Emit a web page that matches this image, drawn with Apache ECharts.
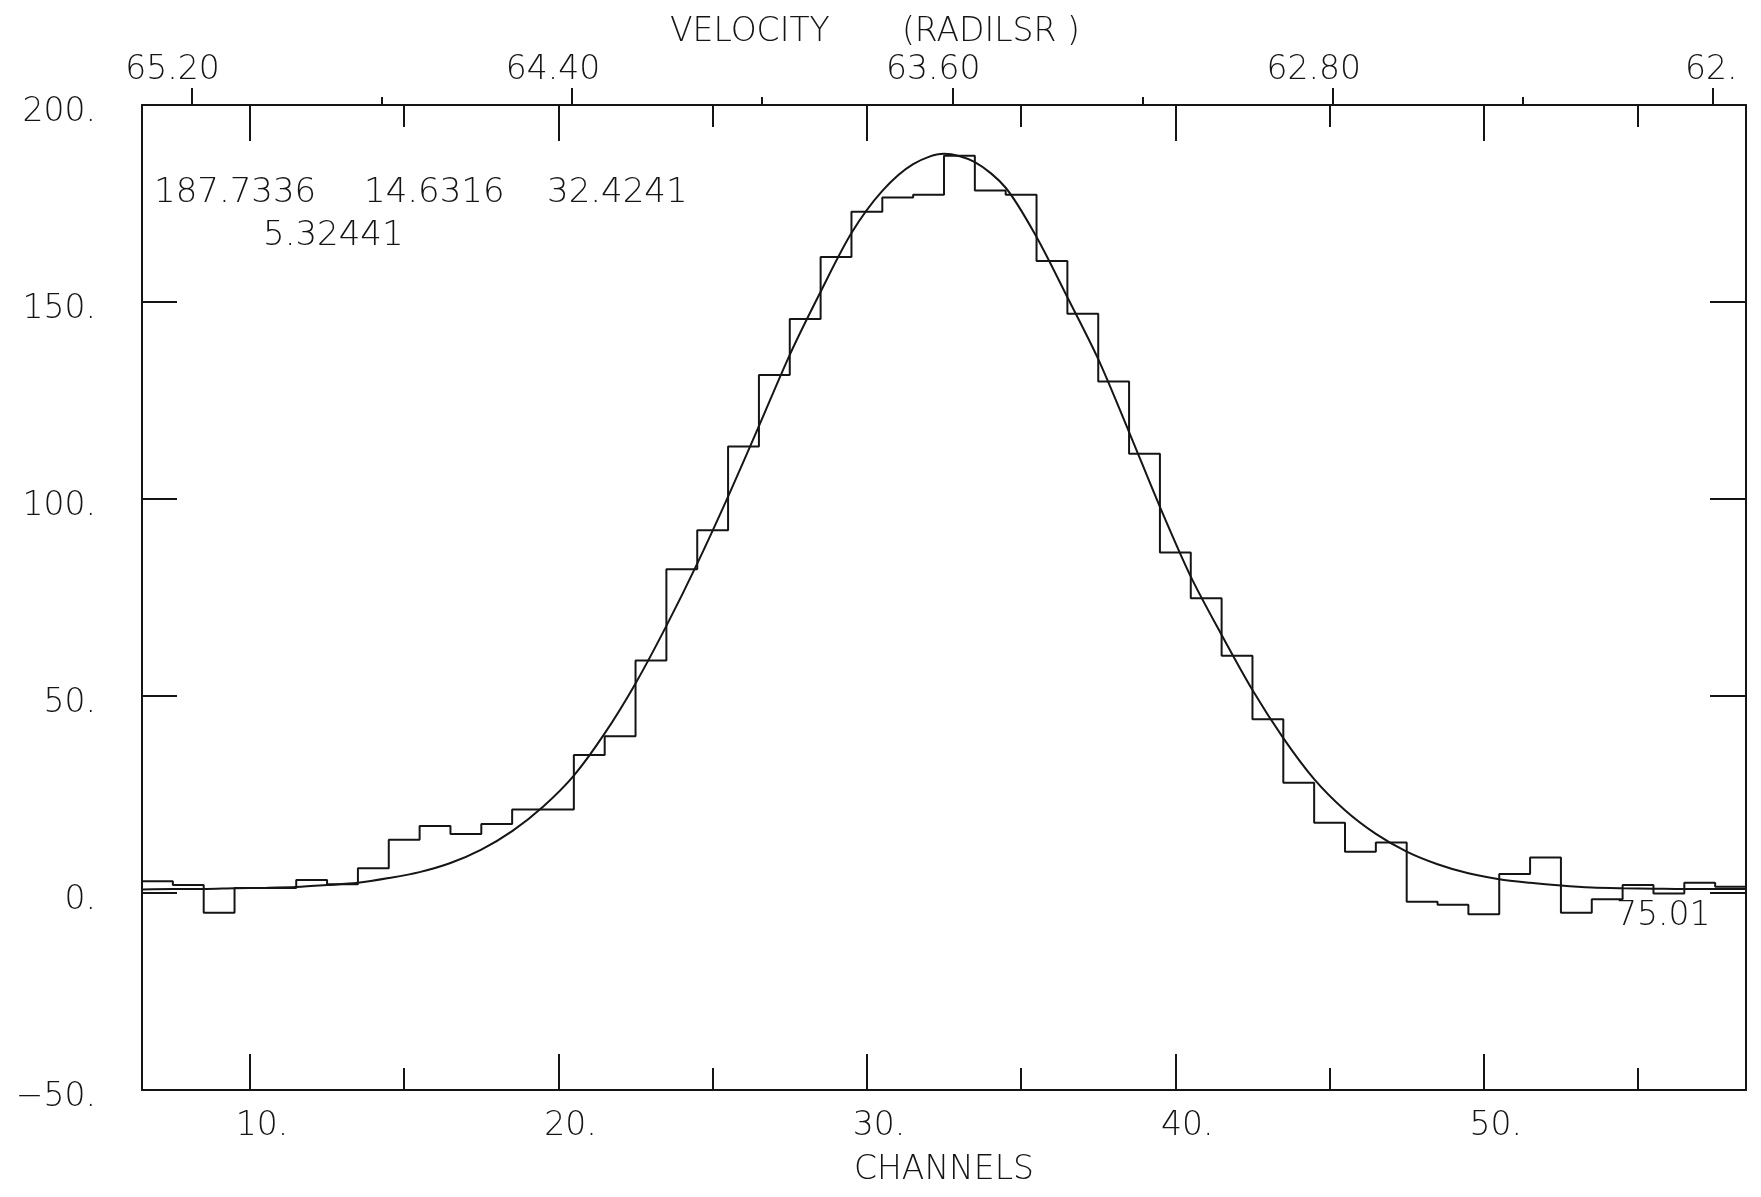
<!DOCTYPE html>
<html>
<head>
<meta charset="utf-8">
<script src="https://cdn.jsdelivr.net/npm/echarts@6/dist/echarts.min.js"></script>
<style>
  html, body { margin: 0; padding: 0; background: #ffffff; }
  #chart { width: 1761px; height: 1197px; }
</style>
</head>
<body>
<div id="chart"></div>
<script>
// ---- data ----
const channels = [7,8,9,10,11,12,13,14,15,16,17,18,19,20,21,22,23,24,25,26,27,28,29,30,31,32,
  33,34,35,36,37,38,39,40,41,42,43,44,45,46,47,48,49,50,51,52,53,54,55,56,57,58];
const counts = [3.0,2.0,-5.0,1.3,1.3,3.3,2.2,6.3,13.5,17.0,15.0,17.5,21.2,21.2,35.0,39.8,59.0,82.2,92.1,113.3,131.5,145.7,161.4,172.9,176.5,177.2,
  187.1,178.3,177.2,160.4,147.0,129.8,111.5,86.4,74.8,60.2,44.1,28.0,17.8,10.5,12.8,-2.2,-3.0,-5.4,4.8,9.0,-5.0,-1.6,2.0,-0.1,2.6,1.6];

// fitted curve, read at the bin edges
const fitChannels = [6.5,7.5,8.5,9.5,10.5,11.5,12.5,13.5,14.5,15.5,16.5,17.5,18.5,19.5,20.5,21.5,22.5,23.5,24.5,25.5,26.5,27.5,28.5,29.5,30.5,31.5,32.5,
  33.5,34.5,35.5,36.5,37.5,38.5,39.5,40.5,41.5,42.5,43.5,44.5,45.5,46.5,47.5,48.5,49.5,50.5,51.5,52.5,53.5,54.5,55.5,56.5,57.5,58.5];
const fitValues = [0.9,1.0,1.0,1.2,1.3,1.5,2.0,2.6,3.8,5.3,7.6,11.0,15.7,21.9,29.8,40.5,53.2,67.8,83.6,100.6,118.5,136.6,152.6,167.5,178.2,185.0,187.6,
  185.5,179.0,166.5,151.2,135.5,117.0,98.0,80.3,65.5,51.5,39.3,28.9,21.0,15.0,10.5,7.3,5.0,3.5,2.6,1.9,1.4,1.2,1.1,1.0,1.0,1.0];

const chanMajorTicks = [10,20,30,40,50];
const chanMinorTicks = [15,25,35,45,55];
const velMajorTicks = [65.2,64.4,63.6,62.8,62.0];
const velMajorLabels = ['65.20','64.40','63.60','62.80','62.'];
const velMinorTicks = [64.8,64.0,63.2,62.4];
const fitParamsLine1 = ['187.7336','14.6316','32.4241'];
const fitParamsLine2 = ['5.32441'];
const residualLabel = '75.01';

// ---- build ----
const INK = '#151515';
const FONT = 'DejaVu Sans';
const FW = 200;
const FS = 33;

const histData = channels.map((c, i) => [c - 0.5, counts[i]]);
histData.push([channels[channels.length - 1] + 0.5, counts[counts.length - 1]]);
const fitData = fitChannels.map((c, i) => [c, fitValues[i]]);

const chMin = 6.5, chMax = 58.5;
const velMin = 61.931, velMax = 65.304;

function labelFmt(v) { return (v < 0 ? '\u2212' + Math.abs(v) : String(v)) + '.'; }
function chanFmt(v) { return '{s| }' + v + '.'; }
function velFmt(v) {
  for (let i = 0; i < velMajorTicks.length; i++) {
    if (Math.abs(velMajorTicks[i] - v) < 1e-6) {
      const t = velMajorLabels[i];
      return t + (t.length > 3 ? '{w| }' : '{n| }');
    }
  }
  return '';
}
const lineStyle = { color: INK, width: 2 };
const textStyle = { color: INK, fontFamily: FONT, fontSize: FS, fontWeight: FW };
const gFont = FW + ' ' + FS + 'px "' + FONT + '"';
const aFont = FW + ' 34px "' + FONT + '"';

const chart = echarts.init(document.getElementById('chart'), null, { renderer: 'canvas' });
chart.setOption({
  backgroundColor: '#ffffff',
  animation: false,
  grid: { left: 142, right: 15, top: 105, bottom: 107, containLabel: false },
  xAxis: [
    { // bottom channels, major
      type: 'value', position: 'bottom', min: chMin, max: chMax,
      axisLine: { show: true, lineStyle: lineStyle, onZero: false },
      axisTick: { show: true, inside: true, length: 36, lineStyle: lineStyle, customValues: chanMajorTicks },
      axisLabel: { show: true, margin: 20, formatter: chanFmt, customValues: chanMajorTicks, ...textStyle,
        rich: { s: { width: 24, fontSize: FS, fontFamily: FONT } } },
      splitLine: { show: false },
      name: 'CHANNELS', nameLocation: 'middle', nameGap: 64,
      nameTextStyle: { ...textStyle }
    },
    { // bottom channels, minor
      type: 'value', position: 'bottom', min: chMin, max: chMax,
      axisLine: { show: false, onZero: false },
      axisTick: { show: true, inside: true, length: 22, lineStyle: lineStyle, customValues: chanMinorTicks },
      axisLabel: { show: false }, splitLine: { show: false }
    },
    { // top channels mirror, major
      type: 'value', position: 'top', min: chMin, max: chMax,
      axisLine: { show: true, lineStyle: lineStyle, onZero: false },
      axisTick: { show: true, inside: true, length: 36, lineStyle: lineStyle, customValues: chanMajorTicks },
      axisLabel: { show: false }, splitLine: { show: false }
    },
    { // top channels mirror, minor
      type: 'value', position: 'top', min: chMin, max: chMax,
      axisLine: { show: false, onZero: false },
      axisTick: { show: true, inside: true, length: 22, lineStyle: lineStyle, customValues: chanMinorTicks },
      axisLabel: { show: false }, splitLine: { show: false }
    },
    { // top velocity, major
      type: 'value', position: 'top', min: velMin, max: velMax, inverse: true,
      axisLine: { show: false, onZero: false },
      axisTick: { show: true, inside: false, length: 17, lineStyle: lineStyle, customValues: velMajorTicks },
      axisLabel: { show: true, margin: 18, formatter: velFmt, customValues: velMajorTicks, ...textStyle,
        rich: { w: { width: 38, fontSize: FS, fontFamily: FONT }, n: { width: 4, fontSize: FS, fontFamily: FONT } } },
      splitLine: { show: false }
    },
    { // top velocity, minor
      type: 'value', position: 'top', min: velMin, max: velMax, inverse: true,
      axisLine: { show: false, onZero: false },
      axisTick: { show: true, inside: false, length: 8, lineStyle: lineStyle, customValues: velMinorTicks },
      axisLabel: { show: false }, splitLine: { show: false }
    }
  ],
  yAxis: [
    {
      type: 'value', position: 'left', min: -50, max: 200, interval: 50,
      axisLine: { show: true, lineStyle: lineStyle, onZero: false },
      axisTick: { show: true, inside: true, length: 35, lineStyle: lineStyle },
      axisLabel: { show: true, margin: 46, formatter: labelFmt, verticalAlign: 'top', lineHeight: 14, ...textStyle },
      splitLine: { show: false }
    },
    {
      type: 'value', position: 'right', min: -50, max: 200, interval: 50,
      axisLine: { show: true, lineStyle: lineStyle, onZero: false },
      axisTick: { show: true, inside: true, length: 36, lineStyle: lineStyle },
      axisLabel: { show: false }, splitLine: { show: false }
    }
  ],
  series: [
    {
      name: 'spectrum', type: 'line', xAxisIndex: 0, yAxisIndex: 0,
      data: histData, step: 'end', showSymbol: false, symbol: 'none',
      lineStyle: { color: INK, width: 2 }
    },
    {
      name: 'fit', type: 'line', xAxisIndex: 0, yAxisIndex: 0,
      data: fitData, smooth: 0.3, showSymbol: false, symbol: 'none',
      lineStyle: { color: INK, width: 2 }
    }
  ],
  graphic: [
    { type: 'text', x: 670, y: 32, style: { text: 'VELOCITY', fill: INK, font: gFont, verticalAlign: 'middle' } },
    { type: 'text', x: 902, y: 32, style: { text: '(RADILSR )', fill: INK, font: gFont, verticalAlign: 'middle' } },
    { type: 'text', x: 154, y: 193, style: { text: fitParamsLine1[0], fill: INK, font: aFont, verticalAlign: 'middle' } },
    { type: 'text', x: 364, y: 193, style: { text: fitParamsLine1[1], fill: INK, font: aFont, verticalAlign: 'middle' } },
    { type: 'text', x: 547, y: 193, style: { text: fitParamsLine1[2], fill: INK, font: aFont, verticalAlign: 'middle' } },
    { type: 'text', x: 263, y: 236, style: { text: fitParamsLine2[0], fill: INK, font: aFont, verticalAlign: 'middle' } },
    { type: 'text', x: 1616, y: 916, style: { text: residualLabel, fill: INK, font: gFont, verticalAlign: 'middle' } }
  ]
});
</script>
</body>
</html>
